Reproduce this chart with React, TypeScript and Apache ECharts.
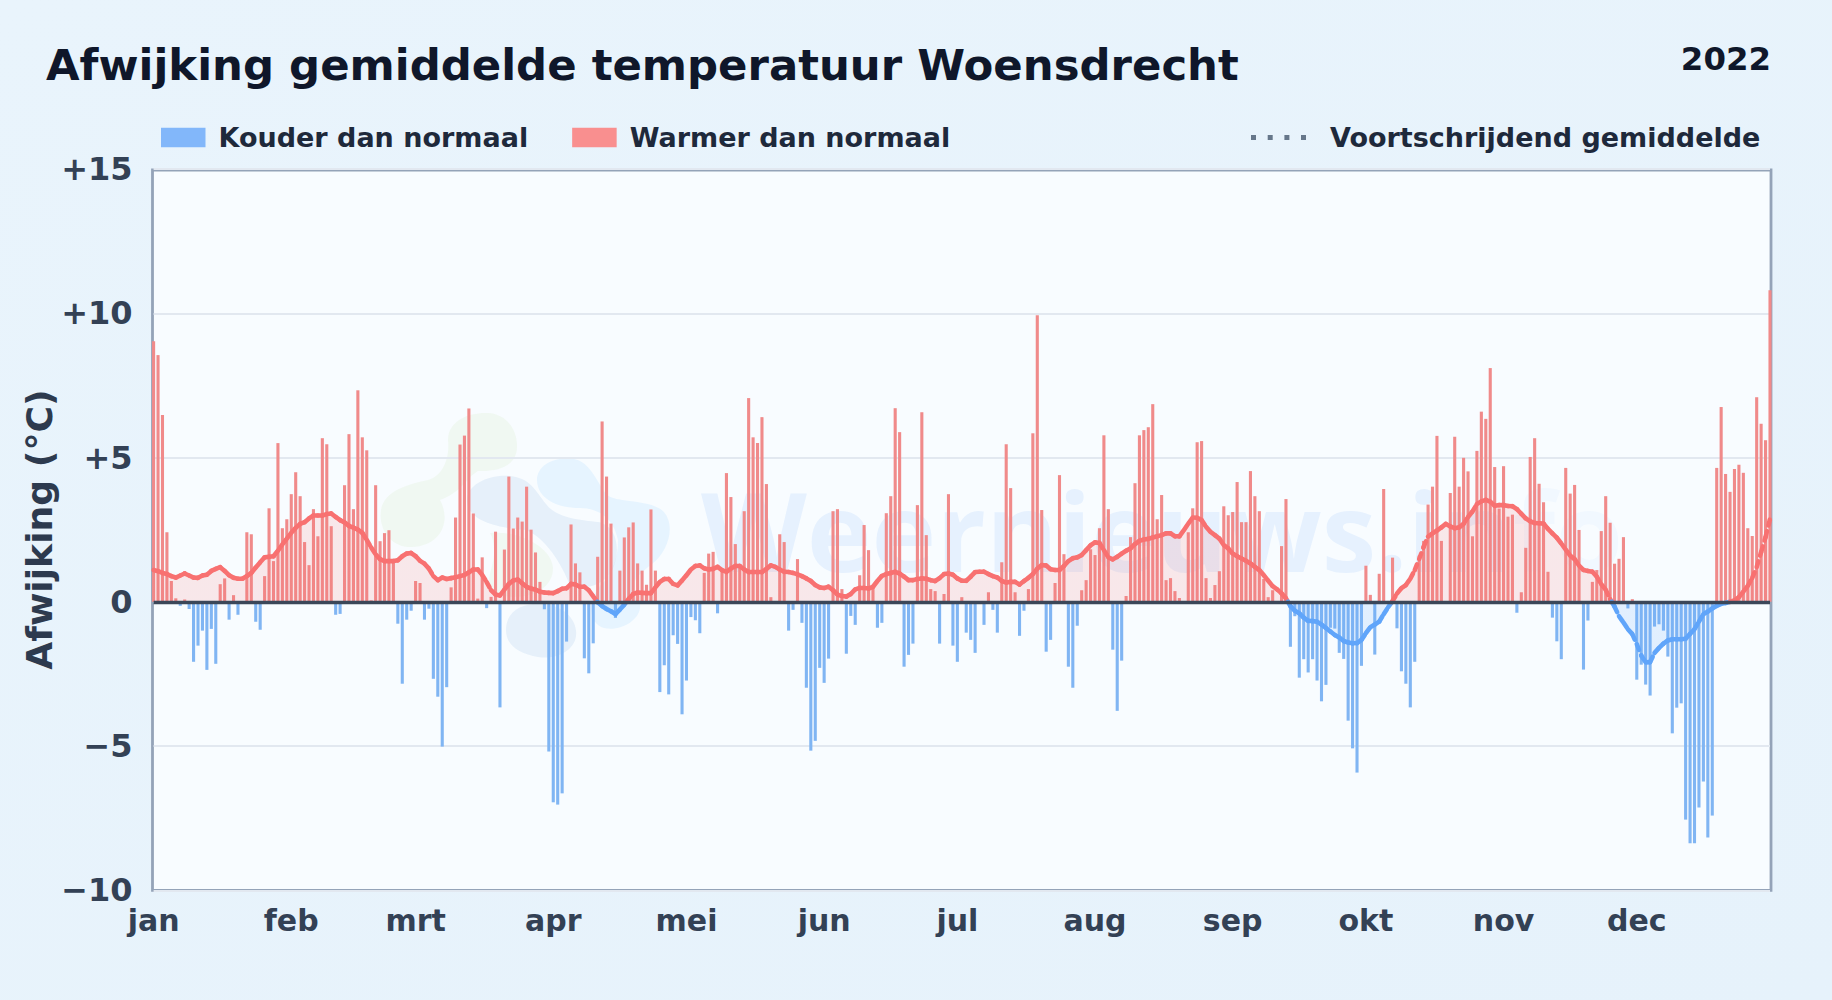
import React, { useEffect, useRef } from "react";
import * as echarts from "echarts";

const TITLE = "Afwijking gemiddelde temperatuur Woensdrecht";
const YEAR = "2022";
const MONTH_LABELS = ["jan", "feb", "mrt", "apr", "mei", "jun", "jul", "aug", "sep", "okt", "nov", "dec"];
const MONTH_START_DAYS = [0, 31, 59, 90, 120, 151, 181, 212, 243, 273, 304, 334];
const COLD_NAME = "Kouder dan normaal";
const WARM_NAME = "Warmer dan normaal";
const AVG_NAME = "Voortschrijdend gemiddelde";

const dailyA = [
  9.03, 8.55, 6.47, 2.41, 0.72, 0.12, -0.14, 0.08, -0.25, -2.08, -1.52, -1.0, -2.36, -0.94, -2.15, 0.61, 0.81, -0.62, 0.23, -0.45,
  0.02, 2.41, 2.34, -0.69, -0.97, 0.89, 3.24, 1.41, 5.5, 2.55, 2.86, 3.73, 4.49, 3.66, 2.07, 1.27, 3.21, 2.27, 5.67, 5.46,
  2.62, -0.45, -0.42, 4.04, 5.81, 3.21, 7.33, 5.7, 5.25, 0.05, 4.04, 2.1, 2.38, 2.48, 1.41, -0.76, -2.84, -0.62, -0.31, 0.72,
  0.65, -0.62, -0.24, -2.67, -3.29, -5.02, -2.96, 0.5, 2.92, 5.45, 5.76, 6.7, 3.06, 0.11, 1.54, -0.22, 0.17, 2.43, -3.66, 1.81,
  4.34, 2.54, 2.92, 2.78, 3.99, 2.5, 1.71, 0.69, -0.26, -5.19, -6.95, -7.03, -6.64, -1.38, 2.68, 1.33, 1.02, -1.96, -2.48, -1.44,
  1.56, 6.25, 4.34, 2.71, -0.56, 1.08, 2.23, 2.58, 2.75, 1.33, 1.08, 0.59, 3.2, 1.08, -3.13, -2.2, -3.21, -1.16, -1.46, -3.9,
  -2.73, -0.53, -0.64, -1.09,
];
const dailyB = [
  1.0, 1.67, 1.73, -0.4, 1.1, 4.46, 3.63, 2.0, 1.27, 3.14, 7.06, 5.7, 5.5, 6.4, 4.08, 0.16, -0.05, 2.34, 2.07, -1.0,
  -0.28, 1.48, -0.73, -2.98, -5.16, -4.82, -2.29, -2.81, -1.97, 3.14, 3.21, 0.44, -1.8, -0.49, -0.8, 0.92, 2.66, 1.79, 0.5, -0.9,
  -0.73, 3.07, 3.66, 6.71, 5.88, -2.25, -1.84, -1.45, 3.35, 6.57, 2.31, 0.44, 0.37, -1.45, 0.27, 3.73, -1.52, -2.08, 0.16, -1.07,
  -1.32, -1.77, -0.05, -0.8, 0.33, -0.28, -1.07, 1.37, 5.46, 3.94, 0.33, -1.18, -0.31, 0.44, 5.84, 9.93, 3.18, -1.73, -1.32, 0.65,
  4.39, 1.65, -2.25, -2.98, -0.83, 0.4, 0.75, 1.82, 1.62, 2.55, 5.77, 3.21, -1.66, -3.78, -2.04, 0.2, 2.24, 4.11, 5.77, 5.95,
  6.05, 6.85, 2.86, 3.7, 0.75, 0.82, 0.37, 0.13, 0.02, 2.41, 3.24, 5.53, 5.57, 0.82, 0.13, 0.58, 1.06, 3.31, 3.0, 3.11,
  4.15, 2.76, 2.76, 4.53, 3.66, 3.14, 0.79, 0.16, 0.4, 0.02, 1.93, 3.56,
];
const dailyC = [
  -1.56, -0.5, -2.63, -1.99, -2.45, -1.99, -2.73, -3.45, -2.88, -0.9, -0.93, -1.77, -1.98, -4.12, -5.08, -5.92, -2.22, 1.25, 0.24, -1.83,
  0.97, 3.91, 0.03, 1.53, -0.92, -2.41, -2.84, -3.66, -2.08, 1.6, 2.11, 3.37, 3.99, 5.75, 2.11, 0.02, 3.77, 5.72, 3.99, 4.99,
  4.52, 2.27, 5.23, 6.59, 6.34, 8.1, 4.67, 3.23, 4.7, 2.95, 3.02, -0.38, 0.33, 1.87, 5.02, 5.67, 4.09, 3.45, 1.04, -0.55,
  -1.37, -1.99, 4.64, 3.75, 4.05, 2.49, -2.35, -0.65, 0.69, 1.1, 2.45, 3.66, 2.74, 1.32, 1.49, 2.24, -0.23, 0.09, -2.7, -2.18,
  -2.87, -3.25, -0.86, -0.78, -1.0, -1.9, -4.56, -3.67, -3.52, -7.55, -8.37, -8.37, -7.13, -6.23, -8.17, -7.41, 4.64, 6.75, 4.43, 3.81,
  4.6, 4.75, 4.47, 2.55, 2.28, 7.09, 6.17, 5.6, 10.8,
];
const dailyDeviation = [...dailyA, ...dailyB, ...dailyC];

const movingAverage = [
  1.1, 1.06, 1.0, 0.96, 0.89, 0.84, 0.91, 0.98, 0.91, 0.84, 0.83, 0.91, 0.94, 1.07, 1.14, 1.2, 1.07, 0.92, 0.83, 0.8,
  0.8, 0.89, 1.0, 1.19, 1.37, 1.54, 1.56, 1.58, 1.77, 1.99, 2.19, 2.39, 2.56, 2.7, 2.76, 2.89, 2.99, 2.99, 2.99, 3.04,
  3.06, 2.94, 2.83, 2.75, 2.63, 2.57, 2.5, 2.39, 2.14, 1.88, 1.64, 1.48, 1.41, 1.41, 1.41, 1.44, 1.58, 1.67, 1.69, 1.58,
  1.42, 1.32, 1.15, 0.89, 0.75, 0.84, 0.79, 0.82, 0.85, 0.89, 0.93, 1.02, 1.12, 1.12, 0.93, 0.68, 0.4, 0.25, 0.22, 0.42,
  0.62, 0.74, 0.77, 0.64, 0.52, 0.46, 0.42, 0.35, 0.32, 0.31, 0.3, 0.37, 0.45, 0.47, 0.62, 0.6, 0.52, 0.52, 0.4, 0.19,
  -0.02, -0.15, -0.25, -0.33, -0.43, -0.27, -0.1, 0.1, 0.27, 0.32, 0.31, 0.3, 0.3, 0.5, 0.69, 0.79, 0.79, 0.62, 0.57, 0.74,
  0.92, 1.12, 1.24, 1.26, 1.16, 1.12, 1.14, 1.21, 1.1, 1.04, 1.15, 1.24, 1.24, 1.12, 1.03, 1.03, 1.03, 1.03, 1.14, 1.26,
  1.21, 1.12, 1.04, 1.03, 1.0, 0.95, 0.89, 0.81, 0.72, 0.58, 0.5, 0.48, 0.52, 0.4, 0.25, 0.2, 0.18, 0.27, 0.43, 0.48,
  0.48, 0.46, 0.52, 0.72, 0.9, 0.96, 1.0, 1.04, 0.98, 0.87, 0.75, 0.75, 0.79, 0.81, 0.8, 0.75, 0.72, 0.82, 0.96, 0.98,
  0.94, 0.81, 0.73, 0.73, 0.87, 1.03, 1.04, 1.04, 0.96, 0.89, 0.84, 0.72, 0.67, 0.69, 0.69, 0.6, 0.72, 0.83, 0.96, 1.15,
  1.27, 1.26, 1.13, 1.1, 1.1, 1.24, 1.41, 1.51, 1.54, 1.62, 1.79, 1.96, 2.06, 2.04, 1.79, 1.54, 1.47, 1.56, 1.67, 1.77,
  1.85, 2.0, 2.11, 2.16, 2.18, 2.23, 2.27, 2.31, 2.37, 2.37, 2.27, 2.27, 2.48, 2.71, 2.92, 2.91, 2.83, 2.6, 2.42, 2.31,
  2.19, 1.96, 1.85, 1.67, 1.58, 1.5, 1.42, 1.33, 1.21, 1.1, 0.92, 0.73, 0.54, 0.43, 0.29, 0.12, -0.15, -0.31, -0.4, -0.55,
  -0.66, -0.67, -0.69, -0.79, -0.91, -1.03, -1.15, -1.24, -1.36, -1.41, -1.44, -1.43, -1.32, -1.09, -0.88, -0.79, -0.69, -0.43, -0.19, 0.02,
  0.29, 0.47, 0.58, 0.8, 1.1, 1.48, 1.9, 2.26, 2.37, 2.47, 2.58, 2.7, 2.61, 2.55, 2.58, 2.7, 2.94, 3.13, 3.39, 3.48,
  3.53, 3.47, 3.33, 3.35, 3.35, 3.32, 3.31, 3.21, 3.05, 2.89, 2.79, 2.73, 2.72, 2.71, 2.53, 2.37, 2.22, 2.02, 1.81, 1.6,
  1.48, 1.25, 1.1, 1.07, 1.04, 0.87, 0.61, 0.42, 0.09, -0.17, -0.5, -0.72, -0.95, -1.12, -1.47, -1.86, -2.1, -2.09, -1.77, -1.6,
  -1.45, -1.34, -1.3, -1.3, -1.3, -1.28, -1.11, -0.95, -0.69, -0.43, -0.34, -0.23, -0.14, -0.07, -0.04, 0.0, 0.05, 0.16, 0.35, 0.55,
  0.83, 1.2, 1.72, 2.24, 2.87,
];

const dayCategories = dailyDeviation.map((_, i) => i);
const coldValues = dailyDeviation.map((v) => (v < 0 ? v : null));
const warmValues = dailyDeviation.map((v) => (v >= 0 ? v : null));
const avgSegments = movingAverage.slice(0, -1).map((v, i) => [i, v, movingAverage[i + 1]]);

const RED = "#f87171";
const BLUE = "#60a5fa";
const RED_BAR = "#f08a8a";
const BLUE_BAR = "#80b5f3";
const FONT = "'DejaVu Sans', sans-serif";

const PANEL = { x: 152.5, y: 170, w: 1618.5, h: 720.3 };
const GRID = { left: 153.6, top: 169, width: 1616.4, bottom: 890.3 };

echarts.graphic.registerShape(
  "wmGreen",
  echarts.graphic.extendPath(
    "M448 440C448 420 470 412 488 413C508 414 518 432 517 448C516 466 498 472 478 471C466 478 462 492 440 500C452 522 440 546 412 547C392 548 378 530 381 510C384 490 410 484 428 480C442 476 450 460 448 440Z" +
      "M490 533C520 530 552 548 553 568C553 590 528 600 505 596C490 594 486 586 492 566C496 552 494 540 490 533Z",
    {}
  )
);
echarts.graphic.registerShape(
  "wmDark",
  echarts.graphic.extendPath(
    "M467 500C467 484 490 474 510 476C530 478 535 490 546 504C556 518 580 520 598 522C620 526 620 556 612 570C604 586 584 590 570 586C566 574 550 540 526 530C500 528 467 522 467 500Z" +
      "M506 630C506 610 524 602 544 604C566 606 578 622 576 636C574 652 554 660 538 657C520 654 506 646 506 630Z",
    {}
  )
);
echarts.graphic.registerShape(
  "wmLight",
  echarts.graphic.extendPath(
    "M537 480C537 464 556 456 574 459C590 462 596 480 606 494C616 504 650 498 664 512C676 526 668 552 652 564C634 578 626 586 640 604C642 620 620 632 604 628C590 624 586 604 600 586C612 574 618 560 618 540C614 520 600 508 580 508C556 508 537 498 537 480Z",
    {}
  )
);

export default function App() {
  const ref = useRef<HTMLDivElement | null>(null);

  useEffect(() => {
    document.body.style.margin = "0";
    const chart = echarts.init(ref.current as HTMLDivElement, undefined, { renderer: "svg" });

    const segmentLine = (x1: number, y1: number, x2: number, y2: number, color: string) => ({
      type: "line",
      shape: { x1, y1, x2, y2 },
      style: { stroke: color, lineWidth: 4.6, lineCap: "round", lineDash: [6, 6], fill: null },
    });

    const wmStyle = {
      fontFamily: "'Open Sans', sans-serif",
      fontWeight: "bold",
      fontSize: 109.5,
    };

    const option: any = {
      animation: false,
      backgroundColor: new echarts.graphic.LinearGradient(0, 0, 1, 1, [
        { offset: 0, color: "#e9f4fc" },
        { offset: 1, color: "#e6f2fb" },
      ]),
      textStyle: { fontFamily: FONT },
      title: [
        {
          text: TITLE,
          left: 46,
          top: 43.7,
          padding: 0,
          textStyle: { fontFamily: FONT, fontSize: 43.4, fontWeight: "bold", color: "#0f172a" },
        },
        {
          text: YEAR,
          right: 61,
          top: 43,
          padding: 0,
          textStyle: { fontFamily: FONT, fontSize: 32.4, fontWeight: "bold", color: "#0f172a" },
        },
      ],
      legend: [
        {
          left: 161,
          top: 124,
          padding: 0,
          itemWidth: 44.5,
          itemHeight: 19.5,
          itemGap: 44,
          selectedMode: false,
          data: [
            { name: COLD_NAME, icon: "rect", itemStyle: { color: "#82b7fa" } },
            { name: WARM_NAME, icon: "rect", itemStyle: { color: "#f98f8f" } },
          ],
          textStyle: { fontFamily: FONT, fontSize: 27, fontWeight: "bold", color: "#1e293b", padding: [0, 0, 0, 8] },
        },
        {
          left: 1251,
          top: 124,
          padding: 0,
          itemWidth: 55,
          itemHeight: 5,
          selectedMode: false,
          data: [
            {
              name: AVG_NAME,
              icon: "path://M0 0h5v5H0zM16.7 0h5v5H16.7zM33.4 0h5v5H33.4zM50 0h5v5H50z",
              itemStyle: { color: "#66778a" },
            },
          ],
          textStyle: { fontFamily: FONT, fontSize: 27, fontWeight: "bold", color: "#1e293b", padding: [0, 0, 0, 19] },
        },
      ],
      grid: {
        left: GRID.left,
        top: GRID.top,
        width: GRID.width,
        height: GRID.bottom - GRID.top,
        containLabel: false,
      },
      xAxis: {
        type: "category",
        data: dayCategories,
        boundaryGap: false,
        axisLine: { show: false, onZero: false },
        axisTick: { show: false },
        splitLine: { show: false },
        axisLabel: {
          interval: (index: number) => MONTH_START_DAYS.includes(index),
          formatter: (_: string, index: number) => MONTH_LABELS[MONTH_START_DAYS.indexOf(index)] ?? "",
          margin: 15,
          fontFamily: FONT,
          fontSize: 30,
          fontWeight: "bold",
          color: "#334155",
          showMinLabel: true,
        },
      },
      yAxis: {
        type: "value",
        min: -10,
        max: 15,
        interval: 5,
        name: "Afwijking (°C)",
        nameLocation: "middle",
        nameMoveOverlap: false,
        nameGap: 96,
        nameTextStyle: { fontFamily: FONT, fontSize: 36.2, fontWeight: "bold", color: "#2d3a4e" },
        axisLine: { show: false },
        axisTick: { show: false },
        splitLine: { lineStyle: { color: "#e2e8f0", width: 2 } },
        axisLabel: {
          margin: 21,
          fontFamily: FONT,
          fontSize: 32,
          fontWeight: "bold",
          color: "#334155",
          formatter: (v: number) => (v > 0 ? `+${v}` : v < 0 ? `\u2212${Math.abs(v)}` : "0"),
        },
      },
      visualMap: {
        show: false,
        seriesIndex: 2,
        dimension: 1,
        pieces: [
          { min: -10, max: 0, color: BLUE },
          { min: 0, max: 15, color: RED },
        ],
      },
      graphic: [
        {
          type: "rect",
          z: -20,
          silent: true,
          shape: { x: PANEL.x, y: PANEL.y, width: PANEL.w, height: PANEL.h },
          style: { fill: "#f8fcff", stroke: "#94a3b8", lineWidth: 2.8 },
        },
        { type: "wmGreen", z: -10, silent: true, style: { fill: "rgba(163,214,110,0.09)" } },
        { type: "wmDark", z: -10, silent: true, style: { fill: "rgba(30,100,190,0.08)" } },
        { type: "wmLight", z: -10, silent: true, style: { fill: "rgba(56,170,250,0.09)" } },
        {
          type: "text",
          z: -10,
          silent: true,
          x: 701,
          y: 474,
          style: {
            text: "{a|Weernieuws.in}{b|fo}",
            ...wmStyle,
            rich: {
              a: { ...wmStyle, fill: "rgba(59,130,246,0.09)" },
              b: { ...wmStyle, fill: "rgba(59,130,246,0.035)" },
            },
          },
        },
      ],
      series: [
        {
          name: COLD_NAME,
          type: "bar",
          data: coldValues,
          barWidth: 3.1,
          barGap: "-100%",
          clip: false,
          itemStyle: { color: BLUE_BAR },
          z: 2,
        },
        {
          name: WARM_NAME,
          type: "bar",
          data: warmValues,
          barWidth: 3.1,
          barGap: "-100%",
          clip: false,
          itemStyle: { color: RED_BAR },
          z: 2,
        },
        {
          name: "Gemiddelde vlak",
          type: "line",
          data: movingAverage,
          showSymbol: false,
          symbol: "none",
          lineStyle: { width: 0, opacity: 0 },
          areaStyle: { opacity: 0.15 },
          silent: true,
          z: 3,
          markLine: {
            silent: true,
            symbol: "none",
            animation: false,
            label: { show: false },
            lineStyle: { color: "#3b4759", width: 3.4, type: "solid" },
            data: [{ yAxis: 0 }],
          },
        },
        {
          name: AVG_NAME,
          type: "custom",
          coordinateSystem: "cartesian2d",
          data: avgSegments,
          encode: { x: 0, y: 1 },
          z: 4,
          silent: true,
          renderItem: (_: any, api: any) => {
            const i = api.value(0);
            const v1 = api.value(1);
            const v2 = api.value(2);
            const a = api.coord([i, v1]);
            const b = api.coord([i + 1, v2]);
            if (v1 * v2 < 0) {
              const f = v1 / (v1 - v2);
              const mx = a[0] + (b[0] - a[0]) * f;
              const my = a[1] + (b[1] - a[1]) * f;
              return {
                type: "group",
                children: [
                  segmentLine(a[0], a[1], mx, my, v1 < 0 ? BLUE : RED),
                  segmentLine(mx, my, b[0], b[1], v2 < 0 ? BLUE : RED),
                ],
              };
            }
            return segmentLine(a[0], a[1], b[0], b[1], v1 < 0 || v2 < 0 ? BLUE : RED);
          },
        },
      ],
    };

    chart.setOption(option);
    return () => chart.dispose();
  }, []);

  return <div ref={ref} style={{ position: "fixed", left: 0, top: 0, width: 1832, height: 1000 }} />;
}
